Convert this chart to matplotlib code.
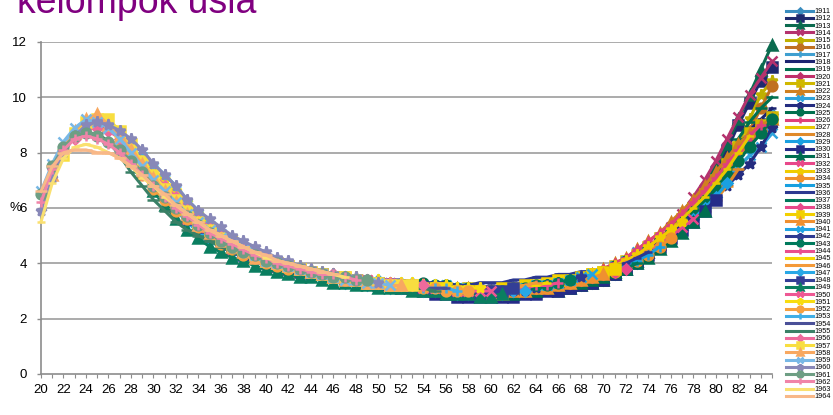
import matplotlib
matplotlib.use('Agg')
import matplotlib.pyplot as plt

plt.rcParams['font.family'] = ['Liberation Sans', 'DejaVu Sans']

title = "kelompok usia"
cohorts = [1911, 1912, 1913, 1914, 1915, 1916, 1917, 1918, 1919, 1920,
           1921, 1922, 1923, 1924, 1925, 1926, 1927, 1928, 1929, 1930,
           1931, 1932, 1933, 1934, 1935, 1936, 1937, 1938, 1939, 1940,
           1941, 1942, 1943, 1944, 1945, 1946, 1947, 1948, 1949, 1950,
           1951, 1952, 1953, 1954, 1955, 1956, 1957, 1958, 1959, 1960,
           1961, 1962, 1963, 1964]
start_ages = [68, 67, 66, 65, 64, 63, 62, 61, 60, 59, 58, 57, 56, 55, 54, 53, 52,
              51, 50, 49, 48, 47, 46, 45, 44, 43, 42, 41, 40, 39, 38, 37, 36, 35,
              34, 33, 32, 31, 30, 29, 28, 27, 26, 25, 24, 23, 22, 21, 20, 20, 20,
              20, 20, 20]

c1911 = [3.2,3.3,3.4,3.6,3.8,4.0,4.3,4.6,4.9,5.3,5.7,6.2,6.7,7.3,7.9,8.5,8.9,9.4]
c1912 = [3.1,3.2,3.3,3.4,3.6,3.8,4.1,4.4,4.7,5.1,5.5,6.0,6.6,7.3,8.1,9.0,9.8,10.6,11.1]
c1913 = [3.0,3.1,3.2,3.3,3.4,3.6,3.8,4.1,4.4,4.8,5.2,5.7,6.2,6.8,7.5,8.3,9.2,10.1,11.0,11.9]
c1914 = [3.1,3.1,3.2,3.3,3.4,3.5,3.7,3.9,4.2,4.5,4.9,5.3,5.8,6.4,7.0,7.7,8.5,9.3,10.1,10.7,11.3]
c1915 = [3.0,3.1,3.1,3.2,3.3,3.4,3.5,3.7,3.9,4.1,4.4,4.7,5.0,5.4,5.8,6.3,6.8,7.5,8.3,9.2,10.1,10.6]
c1916 = [3.1,3.0,3.1,3.1,3.2,3.3,3.4,3.5,3.7,3.9,4.1,4.4,4.7,5.0,5.4,5.8,6.3,6.8,7.4,8.1,8.8,9.6,10.4]
c1917 = [2.9,3.0,3.0,3.1,3.1,3.2,3.3,3.4,3.6,3.8,4.0,4.2,4.5,4.8,5.1,5.5,5.9,6.4,6.9,7.5,8.1,8.6,9.0,9.4]
c1918 = [3.0,3.0,3.1,3.1,3.2,3.2,3.3,3.4,3.5,3.6,3.8,4.0,4.2,4.5,4.8,5.1,5.5,5.9,6.4,7.0,7.6,8.2,8.8,9.2,9.6]
c1919 = [3.1,3.0,3.0,3.1,3.1,3.2,3.3,3.3,3.4,3.5,3.7,3.9,4.1,4.3,4.6,4.9,5.2,5.6,6.0,6.5,7.1,7.8,8.5,9.1,9.6,10.0]
c1920 = [3.0,3.0,2.9,3.0,3.0,3.1,3.1,3.2,3.3,3.4,3.5,3.6,3.8,4.0,4.2,4.5,4.8,5.1,5.5,5.9,6.4,6.9,7.5,8.1,8.6,9.0,9.2]
c1921 = [3.1,3.0,3.0,3.0,3.1,3.1,3.1,3.2,3.3,3.4,3.5,3.6,3.7,3.9,4.1,4.3,4.6,4.9,5.2,5.6,6.0,6.5,7.0,7.6,8.2,8.7,9.0,9.3]
c1922 = [3.1,3.1,3.0,3.0,3.0,3.1,3.1,3.2,3.2,3.3,3.4,3.5,3.6,3.8,4.0,4.2,4.5,4.8,5.1,5.5,5.9,6.3,6.8,7.3,7.8,8.3,8.7,9.0,9.2]
c1923 = [3.2,3.1,3.1,3.0,3.0,3.0,3.1,3.1,3.2,3.2,3.3,3.4,3.5,3.6,3.7,3.9,4.1,4.4,4.6,4.9,5.2,5.5,5.9,6.3,6.7,7.1,7.5,7.9,8.2,8.7]
c1924 = [3.2,3.2,3.1,3.1,3.0,3.0,3.0,3.1,3.1,3.2,3.2,3.3,3.4,3.5,3.6,3.7,3.8,4.0,4.2,4.4,4.7,5.0,5.3,5.6,6.0,6.4,6.8,7.2,7.6,8.2,8.9]
c1925 = [3.3,3.2,3.2,3.1,3.1,3.0,3.0,3.0,3.1,3.1,3.2,3.2,3.3,3.4,3.5,3.6,3.7,3.9,4.1,4.3,4.6,4.9,5.2,5.5,5.9,6.3,6.7,7.2,7.7,8.2,8.7,9.2]
c1926 = [3.3,3.3,3.2,3.2,3.1,3.1,3.1,3.0,3.0,3.1,3.1,3.2,3.2,3.3,3.4,3.5,3.6,3.8,4.0,4.2,4.5,4.8,5.1,5.4,5.8,6.2,6.6,7.1,7.6,8.1,8.6,9.0]
c1927 = [3.3,3.2,3.2,3.2,3.1,3.1,3.0,3.0,3.0,3.0,3.1,3.1,3.2,3.3,3.3,3.4,3.5,3.6,3.8,3.9,4.1,4.3,4.6,4.9,5.2,5.6,6.0,6.4,6.9,7.4,8.0,8.6]
c1928 = [3.4,3.3,3.3,3.2,3.2,3.1,3.1,3.1,3.0,3.0,3.0,3.0,3.1,3.1,3.2,3.2,3.3,3.4,3.5,3.6,3.8,4.0,4.2,4.4,4.7,5.0,5.3,5.6,5.9,6.3,6.8,7.4]
c1929 = [3.4,3.3,3.3,3.3,3.2,3.2,3.1,3.1,3.0,3.0,2.9,2.9,3.0,3.0,3.1,3.1,3.2,3.3,3.4,3.5,3.6,3.7,3.9,4.1,4.3,4.6,4.9,5.2,5.6,6.0,6.4,6.9]
c1930 = [3.3,3.2,3.2,3.1,3.1,3.0,2.9,2.9,2.8,2.8,2.8,2.8,2.8,2.8,2.9,2.9,3.0,3.0,3.1,3.2,3.3,3.4,3.6,3.8,4.0,4.3,4.6,4.9,5.2,5.5,5.9,6.3]
c1931 = [3.4,3.3,3.3,3.2,3.2,3.1,3.1,3.0,3.0,2.9,2.9,2.9,2.9,2.9,2.9,3.0,3.0,3.1,3.2,3.3,3.3,3.4,3.5,3.7,3.8,4.0,4.2,4.5,4.8,5.1,5.5,5.9]
c1932 = [3.5,3.4,3.4,3.3,3.3,3.2,3.2,3.1,3.1,3.1,3.0,3.0,3.0,3.0,3.0,3.0,3.1,3.1,3.2,3.3,3.4,3.5,3.6,3.7,3.8,4.0,4.2,4.5,4.7,5.0,5.3,5.6]
c1933 = [3.6,3.5,3.4,3.4,3.3,3.3,3.2,3.2,3.2,3.1,3.1,3.1,3.0,3.0,3.0,3.0,3.1,3.1,3.2,3.2,3.3,3.4,3.5,3.6,3.7,3.9,4.1,4.3,4.6,4.9,5.2,5.5]
c1934 = [3.6,3.5,3.5,3.4,3.3,3.3,3.2,3.2,3.1,3.1,3.1,3.0,3.0,3.0,2.9,2.9,3.0,3.0,3.0,3.1,3.1,3.2,3.3,3.4,3.5,3.6,3.7,3.9,4.1,4.3,4.6,4.9]
c1935 = [3.7,3.6,3.6,3.5,3.4,3.4,3.3,3.3,3.2,3.2,3.1,3.1,3.0,3.0,3.0,3.0,2.9,2.9,3.0,3.0,3.1,3.1,3.2,3.3,3.4,3.5,3.6,3.8,3.9,4.1,4.3,4.6]
c1936 = [3.8,3.7,3.7,3.6,3.6,3.5,3.5,3.4,3.4,3.4,3.3,3.3,3.3,3.3,3.2,3.2,3.3,3.3,3.3,3.4,3.4,3.5,3.5,3.6,3.6,3.7,3.7,3.8,3.9,4.0,4.2,4.4]
c1937 = [3.9,3.8,3.7,3.6,3.5,3.4,3.4,3.3,3.3,3.2,3.2,3.1,3.1,3.0,3.0,3.0,2.9,2.9,2.9,2.9,3.0,3.0,3.1,3.1,3.2,3.3,3.4,3.5,3.6,3.7,3.8,4.0]
c1938 = [4.0,3.9,3.8,3.7,3.6,3.6,3.5,3.4,3.4,3.3,3.3,3.2,3.2,3.1,3.1,3.1,3.0,3.0,3.0,3.0,3.0,3.0,3.1,3.1,3.2,3.3,3.3,3.4,3.5,3.6,3.7,3.8]
c1939 = [4.1,4.0,3.9,3.8,3.7,3.6,3.5,3.5,3.4,3.3,3.3,3.2,3.2,3.2,3.1,3.1,3.1,3.0,3.0,3.0,3.0,3.1,3.1,3.2,3.2,3.3,3.4,3.4,3.5,3.6,3.7,3.8]
c1940 = [4.2,4.0,3.9,3.8,3.7,3.7,3.6,3.5,3.4,3.4,3.3,3.3,3.2,3.2,3.2,3.1,3.1,3.0,3.0,3.0,2.9,2.9,2.9,3.0,3.0,3.1,3.1,3.2,3.3,3.4,3.5,3.6]
c1941 = [4.4,4.2,4.1,4.0,3.9,3.8,3.7,3.6,3.5,3.5,3.4,3.3,3.3,3.3,3.2,3.2,3.1,3.1,3.1,3.0,3.0,3.0,3.0,3.0,3.1,3.1,3.2,3.2,3.3,3.4,3.5,3.6]
c1942 = [4.6,4.4,4.2,4.1,4.0,3.9,3.8,3.7,3.6,3.5,3.4,3.4,3.3,3.3,3.2,3.2,3.1,3.1,3.0,3.0,3.0,3.0,2.9,2.9,2.9,3.0,3.0,3.1,3.2,3.3,3.4,3.5]
c1943 = [4.8,4.6,4.4,4.2,4.1,4.0,3.9,3.8,3.7,3.6,3.5,3.5,3.4,3.3,3.3,3.2,3.2,3.2,3.1,3.1,3.0,3.0,3.0,3.0,3.0,3.0,3.1,3.1,3.2,3.2,3.3,3.4]
c1944 = [5.1,4.8,4.6,4.4,4.3,4.1,4.0,3.9,3.8,3.7,3.6,3.6,3.5,3.4,3.4,3.3,3.3,3.2,3.2,3.1,3.1,3.1,3.0,3.0,3.0,3.0,3.0,3.1,3.1,3.2,3.2,3.3]
c1945 = [5.5,5.1,4.9,4.6,4.4,4.3,4.1,4.0,3.9,3.8,3.7,3.6,3.5,3.5,3.4,3.3,3.3,3.2,3.2,3.2,3.1,3.1,3.1,3.0,3.0,3.0,3.0,3.1,3.1,3.2,3.2,3.3]
c1946 = [5.9,5.5,5.2,4.9,4.7,4.5,4.3,4.1,4.0,3.9,3.8,3.7,3.6,3.5,3.5,3.4,3.4,3.3,3.3,3.2,3.2,3.1,3.1,3.1,3.0,3.0,3.0,3.0,3.1,3.1,3.2,3.3]
c1947 = [5.9,5.5,5.1,4.8,4.6,4.4,4.2,4.1,4.0,3.9,3.8,3.7,3.6,3.5,3.4,3.3,3.3,3.2,3.2,3.1,3.1,3.1,3.0,3.0,3.0,2.9,2.9,2.9,2.9,2.9,3.0,3.0]
c1948 = [6.5,6.1,5.6,5.3,5.0,4.7,4.5,4.3,4.2,4.0,3.9,3.8,3.7,3.6,3.6,3.5,3.4,3.4,3.3,3.3,3.2,3.2,3.1,3.1,3.0,3.0,3.0,2.9,2.9,3.0,3.0,3.1]
c1949 = [6.6,6.1,5.6,5.2,4.9,4.6,4.4,4.2,4.1,3.9,3.8,3.7,3.6,3.5,3.5,3.4,3.3,3.3,3.2,3.2,3.1,3.1,3.1,3.0,3.0,3.0,2.9,2.9,2.9,2.8,2.8,2.9]
c1950 = [7.3,6.8,6.4,6.0,5.6,5.3,5.0,4.8,4.5,4.4,4.2,4.1,4.0,3.9,3.8,3.7,3.6,3.5,3.5,3.4,3.4,3.3,3.3,3.2,3.2,3.1,3.1,3.1,3.0,3.0,3.0,3.0]
c1951 = [8.2,7.8,7.4,7.0,6.6,6.2,5.8,5.4,5.1,4.9,4.6,4.4,4.2,4.1,4.0,3.9,3.8,3.7,3.6,3.5,3.5,3.4,3.4,3.3,3.3,3.3,3.2,3.2,3.2,3.1,3.1,3.1]
c1952 = [8.3,7.7,7.2,6.7,6.3,5.9,5.6,5.3,5.0,4.7,4.5,4.3,4.2,4.0,3.9,3.8,3.8,3.7,3.6,3.5,3.4,3.4,3.3,3.3,3.2,3.2,3.2,3.1,3.1,3.0,3.0,3.0]
c1953 = [9.1,8.8,8.4,8.0,7.6,7.2,6.8,6.3,5.9,5.5,5.2,4.9,4.7,4.4,4.2,4.0,3.9,3.8,3.7,3.6,3.5,3.5,3.4,3.3,3.3,3.3,3.2,3.2,3.1,3.1,3.1,3.0]
c1954 = [9.0,8.9,8.5,8.0,7.5,7.0,6.6,6.2,5.8,5.4,5.1,4.9,4.6,4.4,4.3,4.1,4.0,3.9,3.8,3.7,3.6,3.5,3.4,3.4,3.3,3.3,3.2,3.2,3.2,3.1,3.1,3.1]
c1955 = [8.6,8.7,8.4,7.9,7.3,6.8,6.3,5.9,5.5,5.2,5.0,4.8,4.6,4.4,4.3,4.1,4.0,3.9,3.8,3.7,3.6,3.5,3.4,3.4,3.3,3.3,3.2,3.2,3.2,3.1,3.1,3.0]
c1956 = [8.5,8.9,8.9,8.8,8.5,8.1,7.6,7.2,6.8,6.4,6.0,5.6,5.3,5.0,4.7,4.5,4.3,4.2,4.0,3.9,3.8,3.7,3.6,3.6,3.5,3.4,3.4,3.3,3.3,3.2,3.2,3.2]
c1957 = [7.9,8.7,9.1,9.2,9.2,8.8,8.3,7.7,7.2,6.7,6.3,5.9,5.5,5.2,4.9,4.7,4.5,4.3,4.1,4.0,3.9,3.8,3.7,3.6,3.5,3.5,3.4,3.3,3.3,3.2,3.2,3.2]
c1958 = [7.2,8.2,8.8,9.2,9.4,9.0,8.6,8.1,7.6,7.1,6.6,6.2,5.8,5.4,5.1,4.8,4.6,4.4,4.2,4.1,4.0,3.9,3.8,3.7,3.6,3.5,3.4,3.4,3.3,3.3,3.2,3.2]
c1959 = [6.6,7.6,8.4,8.9,9.2,9.1,8.9,8.5,8.0,7.5,7.0,6.6,6.2,5.8,5.5,5.2,4.9,4.7,4.5,4.3,4.1,4.0,3.9,3.8,3.7,3.6,3.5,3.4,3.4,3.3,3.3,3.2]
c1960 = [5.9,7.1,8.0,8.6,9.0,9.1,9.0,8.8,8.5,8.1,7.6,7.2,6.8,6.3,5.9,5.6,5.3,5.0,4.8,4.6,4.4,4.2,4.1,3.9,3.8,3.7,3.6,3.5,3.5,3.4,3.3]
c1961 = [6.5,7.5,8.2,8.6,8.7,8.6,8.4,8.1,7.7,7.3,6.8,6.4,6.0,5.7,5.4,5.1,4.8,4.6,4.4,4.3,4.1,4.0,3.9,3.8,3.7,3.6,3.5,3.5,3.4,3.4]
c1962 = [6.2,7.4,8.1,8.5,8.6,8.5,8.3,8.0,7.6,7.2,6.8,6.4,6.0,5.7,5.4,5.1,4.9,4.7,4.5,4.3,4.2,4.0,3.9,3.8,3.7,3.6,3.6,3.5,3.4]
c1963 = [5.5,6.9,7.8,8.2,8.3,8.2,8.0,7.8,7.5,7.1,6.8,6.4,6.1,5.8,5.5,5.2,5.0,4.8,4.6,4.4,4.2,4.1,4.0,3.9,3.8,3.7,3.6,3.5]
c1964 = [6.6,7.5,8.0,8.1,8.1,8.0,8.0,7.8,7.5,7.2,6.8,6.5,6.1,5.8,5.5,5.2,5.0,4.8,4.6,4.4,4.3,4.1,4.0,3.9,3.8,3.7,3.6]

series = [c1911, c1912, c1913, c1914, c1915, c1916, c1917, c1918, c1919, c1920,
          c1921, c1922, c1923, c1924, c1925, c1926, c1927, c1928, c1929, c1930,
          c1931, c1932, c1933, c1934, c1935, c1936, c1937, c1938, c1939, c1940,
          c1941, c1942, c1943, c1944, c1945, c1946, c1947, c1948, c1949, c1950,
          c1951, c1952, c1953, c1954, c1955, c1956, c1957, c1958, c1959, c1960,
          c1961, c1962, c1963, c1964]

x_labels = [str(a) for a in range(20, 85, 2)]
y_ticks = [0, 2, 4, 6, 8, 10, 12]

colors = ['#3A8DBF', '#1F2A6E', '#0B6B4F', '#B4336E', '#BFB000', '#C07020',
          '#3F9FD0', '#1C2470', '#00704F', '#C0306A', '#D0B800', '#D08020',
          '#2EA3DC', '#242C80', '#00704E', '#E0407A', '#E8C800', '#E08A2A',
          '#1AA0E0', '#252C88', '#006E50', '#E8488A', '#F0CC00', '#F0902C',
          '#18A0E0', '#2C3890', '#00785A', '#E8488A', '#F2D000', '#F09030',
          '#20A4E4', '#2E3A92', '#007A5C', '#EA4E8E', '#F6D600', '#F49A38',
          '#28A8E6', '#333E96', '#0A7E60', '#EE5894', '#F8DC10', '#F6A040',
          '#40AEE6', '#4A5098', '#3A8066', '#EE6A9C', '#F8DE40', '#F8A860',
          '#78B8E6', '#8888B8', '#6E9E84', '#F084A8', '#FAE070', '#F8B888']
markers = ['D', 's', '^', 'x', '*', 'o', '+', '_', '_']
msizes = [5, 6.5, 7, 7.5, 8, 7, 7.5, 6, 8]

fig = plt.figure(figsize=(8.33, 4.15), dpi=100)
ax = fig.add_axes([41/833, 1 - 374/415, (772 - 41)/833, (374 - 42)/415])

handles = []
for i, (yr, st, vals) in enumerate(zip(cohorts, start_ages, series)):
    ages = list(range(st, st + len(vals)))
    m = markers[i % 9]
    ms = msizes[i % 9]
    ln, = ax.plot(ages, vals, color=colors[i], lw=2.2, marker=m, ms=ms,
                  mfc=colors[i], mec=colors[i], mew=1.8, clip_on=False,
                  zorder=3 + i * 0.01, solid_joinstyle='round')
    handles.append(ln)

ax.set_xlim(20, 85)
ax.set_ylim(0, 12)
ax.set_yticks(y_ticks)
ax.set_yticklabels([str(v) for v in y_ticks])
ax.set_xticks(list(range(20, 85, 2)))
ax.set_xticklabels(x_labels)
ax.set_xticks(list(range(21, 86, 2)), minor=True)

for y in y_ticks[1:]:
    ax.axhline(y, color='#ABABAB', lw=1.4, zorder=1)

for s in ['top', 'right']:
    ax.spines[s].set_visible(False)
ax.spines['left'].set_color('#8C8C8C')
ax.spines['bottom'].set_color('#8C8C8C')
ax.spines['left'].set_linewidth(1.2)
ax.spines['bottom'].set_linewidth(1.2)

ax.tick_params(axis='y', direction='out', length=3, width=1.0, color='#8C8C8C',
               labelsize=9.5, pad=7, labelcolor='#000000')
ax.tick_params(axis='x', which='both', direction='out', length=3, width=0.8,
               color='#8C8C8C', labelsize=9.5, pad=4, labelcolor='#000000')
ax.tick_params(axis='x', which='minor', labelbottom=False)

fig.text(9/833, 1 - 208/415, '%', fontsize=9.5, va='center', ha='left')
fig.text(17/833, 1 - 13/415, title, fontsize=27, color='#800080',
         va='baseline', ha='left')

fig.legend(handles=handles, labels=[str(c) for c in cohorts], loc='upper left',
           bbox_to_anchor=(786/833, 1 - 8/415), fontsize=5.2, frameon=False,
           handlelength=3.8, handletextpad=0.2, labelspacing=0.03,
           borderaxespad=0, borderpad=0, markerscale=0.6)

fig.savefig('out.png', dpi=100)
